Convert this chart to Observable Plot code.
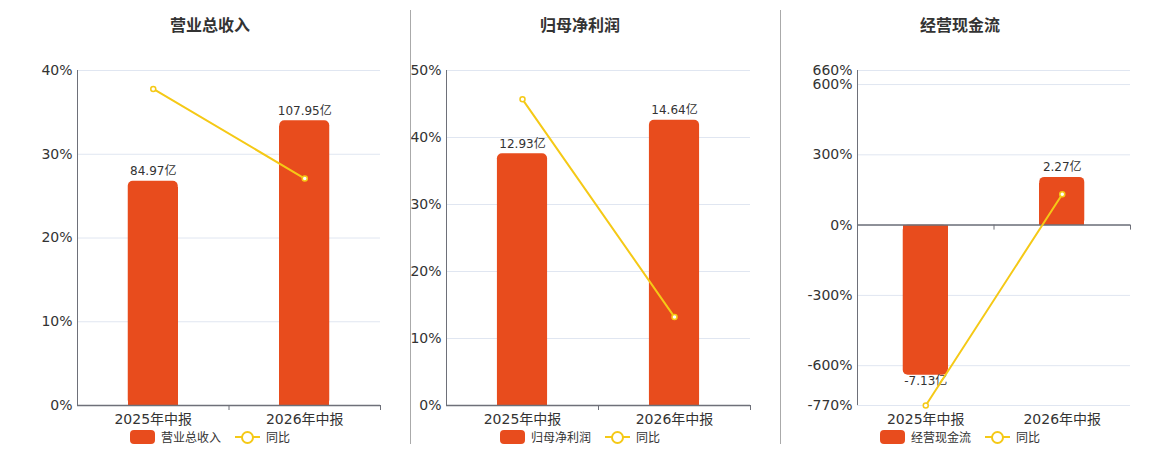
<!DOCTYPE html>
<html>
<head>
<meta charset="utf-8">
<script src="https://cdn.jsdelivr.net/npm/d3@7"></script>
<script src="https://cdn.jsdelivr.net/npm/@observablehq/plot@0.6"></script>
<style>
  body { margin: 0; background: #fff; font-family: "DejaVu Sans", "Noto Sans CJK SC", sans-serif; }
  #root { position: relative; width: 1160px; height: 450px; overflow: hidden; }
  .title { position: absolute; top: 12px; width: 300px; text-align: center; font-size: 16px; font-weight: bold; color: #333; }
  .legend { position: absolute; top: 428px; width: 300px; display: flex; justify-content: center; align-items: center; font-size: 12px; color: #333; }
  .sw-bar { width: 25px; height: 14px; border-radius: 4px; background: #e84c1d; margin-right: 6px; }
  .sw-line { position: relative; width: 25px; height: 14px; margin: 0 6px 0 14px; }
  .sw-line::before { content: ""; position: absolute; left: 0; right: 0; top: 6px; height: 2px; background: #f5c916; }
  .sw-line::after { content: ""; position: absolute; left: 6px; top: 1px; width: 9px; height: 9px; border: 2px solid #f5c916; border-radius: 50%; background: #fff; }
  .sep { position: absolute; top: 10px; height: 434px; width: 1px; background: #aaa; z-index: 5; }
  .panel { position: absolute; top: 40px; }
</style>
</head>
<body>
<div id="root"></div>
<script>
// ---- data ----
const categories = ["2025年中报", "2026年中报"];
const titles = ["营业总收入", "归母净利润", "经营现金流"];
const revenue = [84.97, 107.95];          // 亿
const revenueYoy = [37.8, 27.1];          // %
const netProfit = [12.93, 14.64];         // 亿
const netProfitYoy = [45.7, 13.2];        // %
const cashFlow = [-7.13, 2.27];           // 亿
const cashFlowYoy = [-770, 131.8];        // %
const yTicks1 = [0, 10, 20, 30, 40];
const yTicks2 = [0, 10, 20, 30, 40, 50];
const yTicks3 = [-770, -600, -300, 0, 300, 600, 660];
const barAxis1 = [0, 127];
const barAxis2 = [0, 17.2];
const barAxis3 = [-8.57, 7.35];

const BAR = "#e84c1d", LINE = "#f5c916", AXIS = "#6e7079", GRID = "#e0e6f1", TEXT = "#333";
const FONT = '"DejaVu Sans", "Noto Sans CJK SC", sans-serif';

const panels = [
  {title: titles[0], vals: revenue, yoy: revenueYoy, ticks: yTicks1, barAxis: barAxis1,
   left: 0, width: 400, ml: 77, mr: 20, center: 210},
  {title: titles[1], vals: netProfit, yoy: netProfitYoy, ticks: yTicks2, barAxis: barAxis2,
   left: 400, width: 370, ml: 46, mr: 20, center: 580},
  {title: titles[2], vals: cashFlow, yoy: cashFlowYoy, ticks: yTicks3, barAxis: barAxis3,
   left: 780, width: 370, ml: 77, mr: 20, center: 960}
];

const root = document.getElementById("root");
const H = 395, MT = 30, MB = 30;

panels.forEach(p => {
  const yDom = [d3.min(p.ticks), d3.max(p.ticks)];
  const toY = d3.scaleLinear().domain(p.barAxis).range(yDom);
  const data = categories.map((c, i) => ({i, c, v: p.vals[i], yv: toY(p.vals[i]), y0: toY(0), yoy: p.yoy[i]}));
  const plotW = p.width - p.ml - p.mr;
  const inset = (plotW / 2) * 0.335;
  const pxPerUnit = (H - MT - MB) / (yDom[1] - yDom[0]);
  const tickLen = 5 / pxPerUnit;
  const zero = Math.max(0, yDom[0]);

  const chart = Plot.plot({
    width: p.width, height: H,
    marginLeft: p.ml, marginRight: p.mr, marginTop: MT, marginBottom: MB,
    style: {fontFamily: FONT, color: TEXT, overflow: "visible", background: "transparent"},
    x: {type: "linear", domain: [0, 2], axis: null},
    y: {domain: yDom, axis: null, label: null},
    marks: [
      Plot.gridY(p.ticks, {stroke: GRID, strokeOpacity: 1}),
      Plot.axisY(p.ticks, {tickSize: 0, tickPadding: 5, fontSize: 14, label: null, tickFormat: d => d + "%", fill: TEXT}),
      Plot.axisX([0.5, 1.5], {tickSize: 0, tickPadding: 9, fontSize: 14, fill: TEXT, label: null,
        tickFormat: d => categories[Math.floor(d)]}),
      Plot.rectY(data, {x1: d => d.i, x2: d => d.i + 1, y1: d => d.y0, y2: d => d.yv,
        insetLeft: inset, insetRight: inset, fill: BAR, rx: 5}),
      Plot.rectY(data, {x1: d => d.i, x2: d => d.i + 1, y1: d => d.y0,
        y2: d => d.yv - Math.sign(d.v) * 6 / pxPerUnit,
        insetLeft: inset, insetRight: inset, fill: BAR, shapeRendering: "crispEdges"}),
      Plot.ruleX([0], {stroke: AXIS, strokeWidth: 1}),
      Plot.ruleY([zero], {stroke: AXIS, strokeWidth: 1.5}),
      Plot.ruleX([1, 2], {x: d => d, y1: zero, y2: zero - tickLen, stroke: AXIS}),
      Plot.text(data, {x: d => d.i + 0.5, y: d => d.yv, text: d => d.v.toFixed(2) + "亿",
        fontSize: 12, fill: TEXT, lineAnchor: "bottom", filter: d => d.v >= 0, dy: -6}),
      Plot.text(data, {x: d => d.i + 0.5, y: d => d.yv, text: d => d.v.toFixed(2) + "亿",
        fontSize: 12, fill: TEXT, lineAnchor: "middle", filter: d => d.v < 0, dy: 6}),
      Plot.line(data, {x: d => d.i + 0.5, y: "yoy", stroke: LINE, strokeWidth: 2}),
      Plot.dot(data, {x: d => d.i + 0.5, y: "yoy", r: 2.5, fill: "#fff", stroke: LINE, strokeWidth: 1.5})
    ]
  });
  const wrap = document.createElement("div");
  wrap.className = "panel";
  wrap.style.left = p.left + "px";
  wrap.appendChild(chart);
  root.appendChild(wrap);

  const t = document.createElement("div");
  t.className = "title";
  t.style.left = (p.center - 150) + "px";
  t.textContent = p.title;
  root.appendChild(t);

  const lg = document.createElement("div");
  lg.className = "legend";
  lg.style.left = (p.center - 150) + "px";
  lg.innerHTML = `<span class="sw-bar"></span><span>${p.title}</span><span class="sw-line"></span><span>同比</span>`;
  root.appendChild(lg);
});

[410, 780].forEach(x => {
  const s = document.createElement("div");
  s.className = "sep";
  s.style.left = x + "px";
  root.appendChild(s);
});
</script>
</body>
</html>
